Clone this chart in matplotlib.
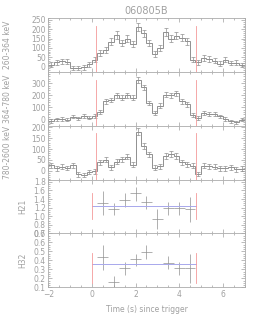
"""Light curves and hardness ratios for GRB 060805B."""

import matplotlib

matplotlib.use("Agg")
import matplotlib.pyplot as plt
import numpy as np
from matplotlib.ticker import MultipleLocator

# light curve bins (s since trigger)
bin_edges = np.arange(-2.0, 7.0001, 0.25)

counts_lo = [10, 22, 28, 24, -10, -8, -6, 12, 35, 70, 88, 133, 170, 125, 148, 120, 212, 178,
             125, 68, 98, 185, 150, 165, 155, 135, 35, 22, 45, 40, 30, 15, 35, 18, 20, 8]
errs_lo = [13, 13, 14, 13, 12, 12, 12, 13, 14, 16, 16, 18, 20, 18, 19, 18, 22, 20,
           18, 16, 17, 20, 19, 19, 19, 18, 14, 13, 14, 14, 13, 13, 14, 13, 13, 12]

counts_mid = [-15, 0, 3, -3, 22, 8, 25, 12, 28, 60, 150, 160, 200, 180, 200, 180, 330, 265,
              137, 51, 114, 205, 200, 215, 151, 125, 37, 10, 50, 45, 42, 25, 2, -18, -25, -5]
errs_mid = [14, 14, 14, 14, 15, 14, 15, 14, 15, 16, 20, 20, 22, 21, 22, 21, 26, 24,
            19, 16, 18, 22, 22, 22, 20, 19, 15, 14, 15, 15, 15, 14, 14, 13, 13, 14]

counts_hi = [25, 10, 18, 12, 25, -18, -22, -8, -4, 38, 50, 15, 42, 52, 65, 28, 180, 115,
             75, 14, 19, 69, 77, 69, 38, 30, 22, -15, 22, 20, 18, 10, 10, 15, 5, 8]
errs_hi = [11, 11, 11, 11, 11, 10, 10, 10, 11, 12, 12, 11, 12, 12, 13, 12, 17, 15,
           13, 11, 11, 13, 13, 13, 12, 12, 11, 10, 11, 11, 11, 11, 11, 11, 11, 11]

band_labels = ["260-364 keV", "364-780 keV", "780-2600 keV"]
t90_start, t90_end = 0.2, 4.77

# hardness ratios, 0.5 s bins
hr_time = [0.5, 1.0, 1.5, 2.0, 2.5, 3.0, 3.5, 4.0, 4.5]
h21 = [1.31, 1.16, 1.38, 1.53, 1.32, 0.94, 1.18, 1.18, 1.16]
h21_lo = [1.04, 1.02, 1.21, 1.36, 1.16, 0.71, 1.04, 1.04, 0.87]
h21_hi = [1.58, 1.31, 1.54, 1.69, 1.47, 1.16, 1.32, 1.32, 1.45]
h21_mean = 1.24

hr32_time = [0.5, 1.0, 1.5, 2.0, 2.5, 3.5, 4.0, 4.5]
h32 = [0.44, 0.16, 0.31, 0.41, 0.49, 0.37, 0.31, 0.31]
h32_lo = [0.29, 0.10, 0.24, 0.34, 0.42, 0.30, 0.24, 0.15]
h32_hi = [0.57, 0.23, 0.38, 0.47, 0.57, 0.45, 0.38, 0.47]
h32_mean = 0.355

GREY = "#909090"
TEXT = "#a0a0a0"
RED = "#f49a9a"
BLUE = "#a8a8ec"

plt.rcParams.update({
    "font.size": 5.5,
    "text.color": TEXT,
    "axes.labelcolor": TEXT,
    "xtick.color": TEXT,
    "ytick.color": TEXT,
    "axes.edgecolor": "#ababab",
    "axes.linewidth": 0.6,
})


def style_axis(ax):
    ax.tick_params(which="both", direction="in", top=True, right=True, width=0.5, pad=2)
    ax.tick_params(which="major", length=3)
    ax.tick_params(which="minor", length=1.5)
    ax.xaxis.set_major_locator(MultipleLocator(2))
    ax.xaxis.set_minor_locator(MultipleLocator(0.5))
    ax.set_xlim(-2, 7)


fig = plt.figure(figsize=(2.69, 3.23), dpi=100)
gs = fig.add_gridspec(5, 1, left=0.18, right=0.909, top=0.944, bottom=0.1105, hspace=0)
axes = [fig.add_subplot(gs[i]) for i in range(5)]

lc_data = [(counts_lo, errs_lo), (counts_mid, errs_mid), (counts_hi, errs_hi)]
lc_ylims = [(-30, 260), (-55, 395), (-42, 208)]
lc_major = [50, 100, 50]
lc_minor = [10, 20, 10]
red_top = [0.85, 0.85, 0.87]

centers = 0.5 * (bin_edges[:-1] + bin_edges[1:])
for i, (vals, errs) in enumerate(lc_data):
    ax = axes[i]
    ax.stairs(vals, bin_edges, color=GREY, linewidth=0.7)
    ax.errorbar(centers, vals, yerr=errs, fmt="none", ecolor=GREY, elinewidth=0.5,
                capsize=1.2, capthick=0.5)
    for t in (t90_start, t90_end):
        ax.axvline(t, ymin=0, ymax=red_top[i], color=RED, linewidth=0.6)
    ax.set_ylim(*lc_ylims[i])
    ax.yaxis.set_major_locator(MultipleLocator(lc_major[i]))
    ax.yaxis.set_minor_locator(MultipleLocator(lc_minor[i]))
    ax.set_ylabel(band_labels[i])
    ax.yaxis.set_label_coords(-0.185, 0.5)
    style_axis(ax)
    ax.tick_params(labelbottom=False)

# H21
ax = axes[3]
h21 = np.array(h21)
ax.errorbar(hr_time, h21, xerr=0.25, yerr=[h21 - np.array(h21_lo), np.array(h21_hi) - h21],
            fmt="none", ecolor=GREY, elinewidth=0.5)
ax.plot([0, t90_end], [h21_mean, h21_mean], color=BLUE, linewidth=0.7)
for t in (0.0, t90_end):
    ax.plot([t, t], [0.93, 1.55], color=RED, linewidth=0.6)
ax.set_ylim(0.6, 1.85)
ax.yaxis.set_major_locator(MultipleLocator(0.2))
ax.yaxis.set_minor_locator(MultipleLocator(0.05))
ax.set_ylabel("H21")
ax.yaxis.set_label_coords(-0.11, 0.5)
style_axis(ax)
ax.tick_params(labelbottom=False)

# H32
ax = axes[4]
h32 = np.array(h32)
ax.errorbar(hr32_time, h32, xerr=0.25, yerr=[h32 - np.array(h32_lo), np.array(h32_hi) - h32],
            fmt="none", ecolor=GREY, elinewidth=0.5)
ax.plot([0, t90_end], [h32_mean, h32_mean], color=BLUE, linewidth=0.7)
for t in (0.0, t90_end):
    ax.plot([t, t], [0.15, 0.48], color=RED, linewidth=0.6)
ax.set_ylim(0.1, 0.7)
ax.yaxis.set_major_locator(MultipleLocator(0.1))
ax.yaxis.set_minor_locator(MultipleLocator(0.025))
ax.set_ylabel("H32")
ax.yaxis.set_label_coords(-0.11, 0.5)
style_axis(ax)
ax.set_xlabel("Time (s) since trigger", labelpad=4)

fig.text(0.545, 0.965, "060805B", ha="center", va="center", fontsize=7, color=TEXT)

fig.savefig("out.png", dpi=100)
